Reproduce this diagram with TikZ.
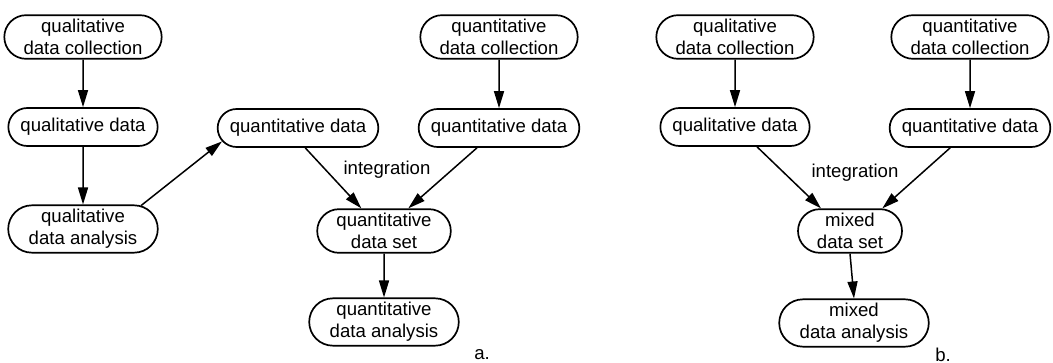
\documentclass[tikz,border=0pt]{standalone}
\usepackage{fontspec}
\setmainfont{Liberation Sans}
\usetikzlibrary{shapes.misc,arrows.meta}

\begin{document}
\begin{tikzpicture}[x=0.5pt,y=-0.5pt,
  stage/.style={rounded rectangle, draw, line width=0.85pt, align=center,
    font=\fontsize{9.3}{11}\selectfont, inner xsep=5pt, inner ysep=2pt, minimum height=19pt},
  flow/.style={-{Triangle[length=8.5pt,width=5pt]}, line width=0.75pt},
  note/.style={font=\fontsize{9.3}{11}\selectfont}]
\useasboundingbox (0,0) rectangle (1053,363);

% a. quantitative integration
\node[stage] (qlcol) at (83,37) {qualitative\\data collection};
\node[stage] (qldat) at (83,127) {qualitative data};
\node[stage] (qlana) at (83,229) {qualitative\\data analysis};
\node[stage] (qtmid) at (298,128) {quantitative data};
\node[stage] (qtcol) at (499,37) {quantitative\\data collection};
\node[stage] (qtdat) at (499,128) {quantitative data};
\node[note] (intA) at (387,170) {integration};
\node[stage] (qtset) at (384,231) {quantitative\\data set};
\node[stage] (qtana) at (384,322) {quantitative\\data analysis};
\node[note] (capA) at (482,355) {a.};

\path[flow] (qlcol) edge (qldat);
\path[flow] (qldat) edge (qlana);
\path[flow] (qlana.22) edge (qtmid.190);
\path[flow] (qtcol) edge (qtdat);
\path[flow] (qtmid.-70) edge (qtset.135);
\path[flow] (qtdat.222) edge (qtset.43);
\path[flow] (qtset) edge (qtana);

% b. mixed integration
\node[stage] (mqlcol) at (735,37) {qualitative\\data collection};
\node[stage] (mqldat) at (735,127) {qualitative data};
\node[stage] (mqtcol) at (970,37) {quantitative\\data collection};
\node[stage] (mqtdat) at (970,128) {quantitative data};
\node[note] (intB) at (855,173) {integration};
\node[stage, minimum width=62pt] (mset) at (850,231) {mixed\\data set};
\node[stage] (mana) at (854,323) {mixed\\data analysis};
\node[note] (capB) at (943,355) {b.};

\path[flow] (mqlcol) edge (mqldat);
\path[flow] (mqtcol) edge (mqtdat);
\path[flow] (mqldat.-42) edge (mset.142);
\path[flow] (mqtdat.225) edge (mset.35);
\path[flow] (mset.south) edge (mana.north);

\end{tikzpicture}
\end{document}
